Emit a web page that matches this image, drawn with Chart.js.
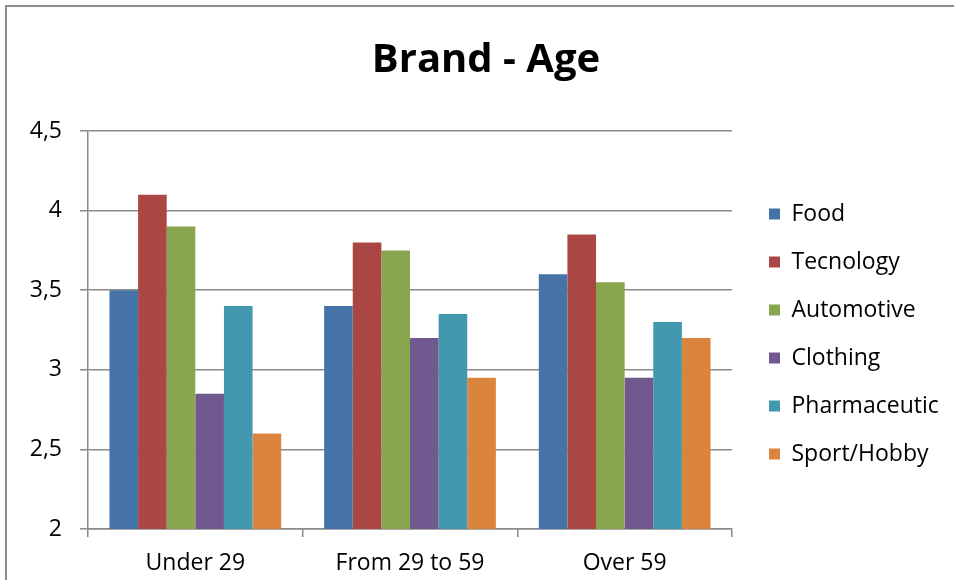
<!DOCTYPE html>
<html>
<head>
<meta charset="utf-8">
<script src="https://cdn.jsdelivr.net/npm/chart.js@4/dist/chart.umd.min.js"></script>
<style>
  html, body { margin: 0; padding: 0; background: #fff; }
  #wrap { position: relative; width: 954px; height: 580px; overflow: hidden; }
  #frame { position: absolute; left: 5px; top: 5px; width: 1000px; height: 700px;
           border-top: 2px solid #8c8c8c; border-left: 2px solid #8c8c8c; pointer-events: none; }
  canvas { position: absolute; left: 0; top: 0; }
</style>
</head>
<body>
<div id="wrap">
  <canvas id="c" width="954" height="580"></canvas>
  <div id="frame"></div>
</div>
<script>
const categories = ['Under 29', 'From 29 to 59', 'Over 59'];
const seriesNames = ['Food', 'Tecnology', 'Automotive', 'Clothing', 'Pharmaceutic', 'Sport/Hobby'];
const food        = [3.5, 3.4, 3.6];
const tecnology   = [4.1, 3.8, 3.85];
const automotive  = [3.9, 3.75, 3.55];
const clothing    = [2.85, 3.2, 2.95];
const pharmaceutic= [3.4, 3.35, 3.3];
const sportHobby  = [2.6, 2.95, 3.2];
const seriesColors = ['#4572A7', '#AA4643', '#89A54E', '#71588F', '#4198AF', '#DB843D'];
const titleText = 'Brand - Age';

const seriesValues = [food, tecnology, automotive, clothing, pharmaceutic, sportHobby];
const FONT = "'Open Sans', 'Liberation Sans', sans-serif";
const GRID = '#8a8a8a';

const legendFix = {
  id: 'legendFix',
  afterInit(chart) {
    const lg = chart.legend;
    const orig = lg.fit.bind(lg);
    lg.fit = function () { orig(); this.width = 222; };
  },
  afterLayout(chart) {
    const lg = chart.legend;
    lg.left += 12; lg.right += 12;
    lg.top += 4; lg.bottom += 4;
    const tb = chart.titleBlock;
    if (tb) { tb.left += 9; tb.right += 9; }
  }
};

new Chart(document.getElementById('c'), {
  type: 'bar',
  data: {
    labels: categories,
    datasets: seriesNames.map((n, i) => ({
      label: n,
      data: seriesValues[i],
      backgroundColor: seriesColors[i],
      borderWidth: 0,
      categoryPercentage: 0.8,
      barPercentage: 1.0
    }))
  },
  options: {
    responsive: false,
    animation: false,
    layout: { padding: { left: 0, right: 0, top: 0, bottom: 0 } },
    plugins: {
      title: {
        display: true,
        text: titleText,
        color: '#000',
        font: { family: FONT, size: 40, weight: 'bold' },
        padding: { top: 37, bottom: 46 }
      },
      legend: {
        position: 'right',
        fullSize: false,
        align: 'center',
        labels: {
          boxWidth: 11, boxHeight: 11,
          padding: 25,
          color: '#000',
          font: { family: FONT, size: 23 }
        }
      },
      tooltip: { enabled: false }
    },
    scales: {
      x: {
        grid: { display: true, drawOnChartArea: false, drawTicks: true, tickLength: 8, color: GRID, lineWidth: 1.5, offset: true },
        border: { display: true, color: GRID, width: 1.5 },
        ticks: { color: '#000', font: { family: FONT, size: 23 }, padding: 13, maxRotation: 0 },
        afterFit(s) { s.height = 51; }
      },
      y: {
        min: 2, max: 4.5,
        ticks: { stepSize: 0.5, color: '#000', font: { family: FONT, size: 23 }, padding: 18,
                 callback: v => String(v).replace('.', ',') },
        grid: { color: GRID, lineWidth: 1.5, tickLength: 8, drawTicks: true },
        border: { display: true, color: GRID, width: 1.5 },
        afterFit(s) { s.width = 88; }
      }
    }
  },
  plugins: [legendFix]
});
</script>
</body>
</html>
